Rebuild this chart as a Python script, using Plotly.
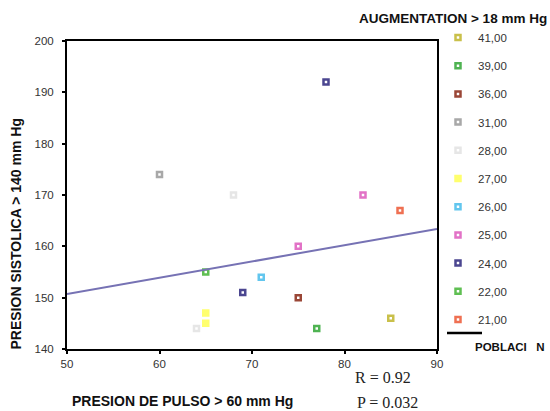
import plotly.graph_objects as go

# ---- data ----
categories = ["41,00", "39,00", "36,00", "31,00", "28,00", "27,00",
              "26,00", "25,00", "24,00", "22,00", "21,00"]
colors = ["#c9c04a", "#4fb352", "#9a4636", "#a8a8a8", "#e6e6e6", "#ffff6e",
          "#62c6ee", "#e272c6", "#4b4690", "#5fbf52", "#ef7052"]
pulse = {
    "41,00": [85],
    "39,00": [77],
    "36,00": [75],
    "31,00": [60],
    "28,00": [68, 64],
    "27,00": [65, 65],
    "26,00": [71],
    "25,00": [82, 75],
    "24,00": [78, 69],
    "22,00": [65],
    "21,00": [86],
}
systolic = {
    "41,00": [146],
    "39,00": [144],
    "36,00": [150],
    "31,00": [174],
    "28,00": [170, 144],
    "27,00": [147, 145],
    "26,00": [154],
    "25,00": [170, 160],
    "24,00": [192, 151],
    "22,00": [155],
    "21,00": [167],
}
fit_x = [50, 90]
fit_y = [150.7, 163.4]
x_ticks = [50, 60, 70, 80, 90]
y_ticks = [140, 150, 160, 170, 180, 190, 200]

fig = go.Figure()

for cat, col in zip(categories, colors):
    filled = cat == "27,00"
    fig.add_trace(go.Scatter(
        x=pulse[cat], y=systolic[cat], mode="markers", name=cat,
        legendgroup=cat,
        marker=dict(symbol="square", size=5,
                    color=col if filled else "white",
                    line=dict(color=col, width=2.5)),
    ))

fig.add_trace(go.Scatter(
    x=fit_x, y=fit_y, mode="lines", showlegend=False,
    line=dict(color="#7672b4", width=2),
))

W, H = 550, 411
L, R, T, B = 67, 113, 41, 62
pw, ph = W - L - R, H - T - B


def px(x):
    return (x - L) / pw


def py(y):
    return (H - B - y) / ph


fig.update_layout(
    width=W, height=H,
    margin=dict(l=L, r=R, t=T, b=B, autoexpand=False),
    paper_bgcolor="white", plot_bgcolor="white",
    font=dict(family="Liberation Sans, Arial", color="#333333"),
    showlegend=True,
    legend=dict(
        x=438 / W, xref="container", xanchor="left",
        y=1 - 23 / H, yref="container", yanchor="top",
        font=dict(size=11.5, color="#333333"),
        tracegroupgap=9.2, bgcolor="rgba(0,0,0,0)",
        itemclick=False, maxheight=400,
    ),
    xaxis=dict(
        range=[50, 90], tickvals=x_ticks, ticks="outside", ticklen=3,
        tickwidth=2, tickcolor="black", showgrid=False, zeroline=False,
        showline=True, linecolor="black", linewidth=2, mirror=True,
        tickfont=dict(size=11.5, color="#333333"),
    ),
    yaxis=dict(
        range=[140, 200], tickvals=y_ticks, ticks="outside", ticklen=3,
        tickwidth=2, tickcolor="black", showgrid=False, zeroline=False,
        showline=True, linecolor="black", linewidth=2, mirror=True,
        tickfont=dict(size=11.5, color="#333333"),
        ticklabelstandoff=6,
    ),
)

annotations = [
    dict(text="<b>PRESION DE PULSO > 60 mm Hg</b>", x=px(70), y=py(401),
         xanchor="left", yanchor="middle", font=dict(size=14, color="#111111")),
    dict(text="<b>PRESION SISTOLICA > 140 mm Hg</b>", x=px(15), y=py(352),
         xanchor="center", yanchor="bottom", textangle=-90,
         font=dict(size=14, color="#111111")),
    dict(text="<b>AUGMENTATION > 18 mm Hg</b>", x=px(549), y=py(18),
         xanchor="right", yanchor="middle", font=dict(size=13.5, color="#111111")),
    dict(text="<b>POBLACI   N</b>", x=px(473), y=py(347),
         xanchor="left", yanchor="middle", font=dict(size=11.5, color="#111111")),
    dict(text="R = 0.92", x=px(353), y=py(377),
         xanchor="left", yanchor="middle",
         font=dict(size=16, family="Liberation Serif, Times New Roman", color="#222222")),
    dict(text="P = 0.032", x=px(355), y=py(402),
         xanchor="left", yanchor="middle",
         font=dict(size=16, family="Liberation Serif, Times New Roman", color="#222222")),
]
for a in annotations:
    a.update(xref="paper", yref="paper", showarrow=False)
fig.update_layout(annotations=annotations)

fig.add_shape(type="line", xref="paper", yref="paper",
              x0=px(447), x1=px(482), y0=py(333), y1=py(333),
              line=dict(color="black", width=2.5))

fig.write_html("out.html")
